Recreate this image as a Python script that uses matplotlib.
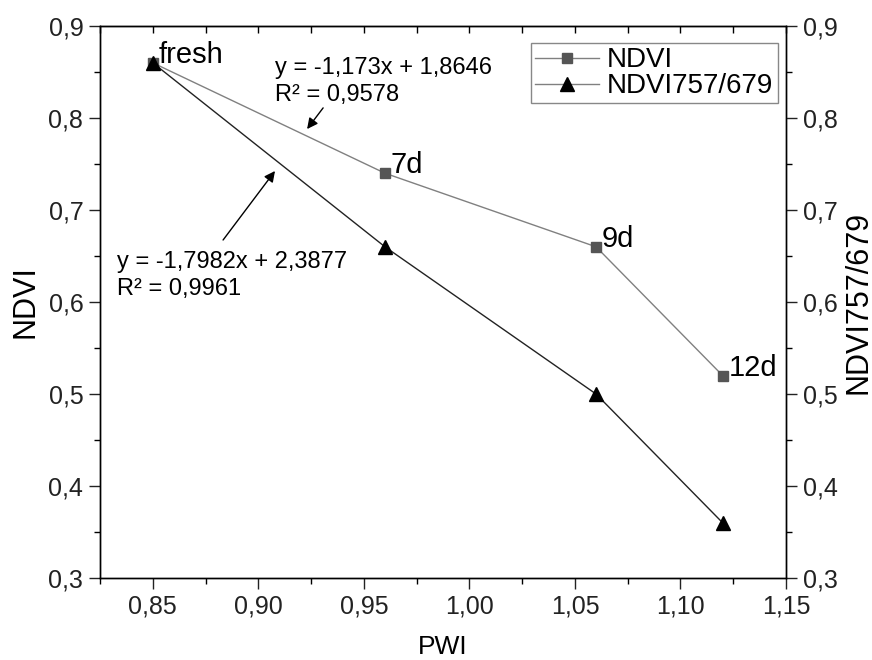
import matplotlib
matplotlib.use('Agg')
import matplotlib.pyplot as plt
from matplotlib.ticker import FuncFormatter, MultipleLocator

plt.rcParams['font.family'] = ['Liberation Sans', 'DejaVu Sans']

# data
pwi = [0.85, 0.96, 1.06, 1.12]
ndvi = [0.86, 0.74, 0.66, 0.52]
ndvi_757_679 = [0.86, 0.66, 0.50, 0.36]
point_labels = ['fresh', '7d', '9d', '12d']

fit_ndvi = 'y = -1,173x + 1,8646\nR² = 0,9578'
fit_757 = 'y = -1,7982x + 2,3877\nR² = 0,9961'


def comma(fmt):
    return FuncFormatter(lambda v, pos: (fmt % v).replace('.', ','))


fig, ax = plt.subplots(figsize=(8.72, 6.6), dpi=100)
fig.subplots_adjust(left=0.1147, right=0.9014, bottom=0.1242, top=0.9606)
ax2 = ax.twinx()

l1, = ax.plot(pwi, ndvi, color='#808080', lw=1.0, marker='s', ms=7,
              mfc='#555555', mec='#555555', label='NDVI', zorder=3)
l2, = ax2.plot(pwi, ndvi_757_679, color='#222222', lw=1.0, marker='^', ms=10,
               mfc='black', mec='black', label='NDVI757/679', zorder=3)

for x, y, s in zip(pwi, ndvi, point_labels):
    ax.annotate(s, (x, y), xytext=(4, 0), textcoords='offset points',
                ha='left', va='baseline', fontsize=21)

# regression labels with arrows
ax.text(0.908, 0.840, fit_ndvi, fontsize=17, ha='left', va='center',
        linespacing=1.3)
ax.annotate('', xy=(0.9231, 0.788), xytext=(0.9307, 0.811),
            arrowprops=dict(arrowstyle='-|>', color='black', lw=1.0,
                            mutation_scale=16, shrinkA=0, shrinkB=0))
ax.text(0.833, 0.629, fit_757, fontsize=17, ha='left', va='center',
        linespacing=1.3)
ax.annotate('', xy=(0.9079, 0.7424), xytext=(0.8833, 0.6674),
            arrowprops=dict(arrowstyle='-|>', color='black', lw=1.0,
                            mutation_scale=16, shrinkA=0, shrinkB=0))

for a in (ax, ax2):
    a.set_ylim(0.3, 0.9)
    a.yaxis.set_major_locator(MultipleLocator(0.1))
    a.yaxis.set_minor_locator(MultipleLocator(0.05))
    a.yaxis.set_major_formatter(comma('%.1f'))
    for sp in a.spines.values():
        sp.set_linewidth(1.0)
        sp.set_color('black')

ax.set_xlim(0.825, 1.15)
ax.xaxis.set_major_locator(MultipleLocator(0.05))
ax.xaxis.set_minor_locator(MultipleLocator(0.025))
ax.xaxis.set_major_formatter(comma('%.2f'))

for a in (ax, ax2):
    a.tick_params(which='major', direction='out', length=8, width=1.0,
                  labelsize=18, colors='#222222', pad=4)
    a.tick_params(which='minor', direction='out', length=4, width=1.0)

top = ax.secondary_xaxis('top')
top.xaxis.set_major_locator(MultipleLocator(0.05))
top.xaxis.set_minor_locator(MultipleLocator(0.025))
top.tick_params(which='both', direction='in', length=5, width=1.0,
                labeltop=False)

ax.set_xlabel('PWI', fontsize=19, labelpad=12)
ax.set_ylabel('NDVI', fontsize=22, labelpad=6)
ax2.set_ylabel('NDVI757/679', fontsize=22, labelpad=4)

leg = ax2.legend([l1, l2], ['NDVI', 'NDVI757/679'], loc='upper right',
                 bbox_to_anchor=(0.988, 0.969), fontsize=20, frameon=True,
                 fancybox=False, edgecolor='#888888', framealpha=1,
                 handlelength=2.3, handletextpad=0.3, labelspacing=0.0,
                 borderpad=0.15, borderaxespad=0)
leg.get_frame().set_linewidth(1.0)
for h in leg.legend_handles:
    h.set_color('#808080')
leg.legend_handles[0].set_markerfacecolor('#555555')
leg.legend_handles[0].set_markeredgecolor('#555555')
leg.legend_handles[1].set_markerfacecolor('black')
leg.legend_handles[1].set_markeredgecolor('black')

fig.savefig('out.png', dpi=100)
